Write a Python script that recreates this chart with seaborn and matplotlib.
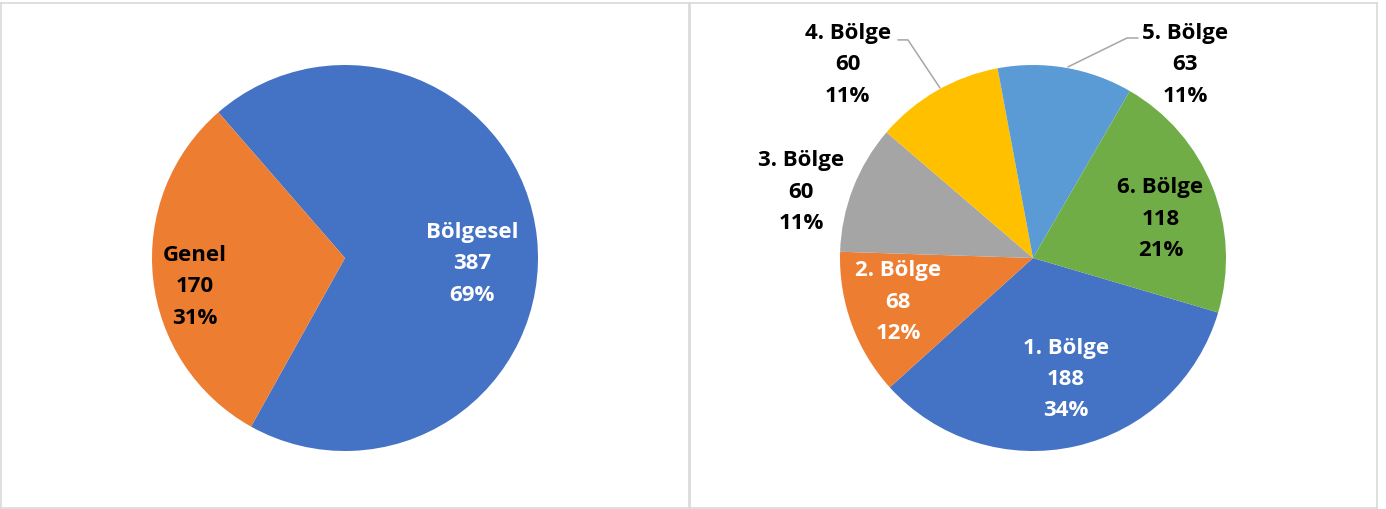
import matplotlib
matplotlib.use("Agg")
import matplotlib.pyplot as plt
import seaborn as sns

# data
type_labels = ["Bölgesel", "Genel"]
type_values = [387, 170]
region_labels = ["1. Bölge", "2. Bölge", "3. Bölge", "4. Bölge", "5. Bölge", "6. Bölge"]
region_values = [188, 68, 60, 60, 63, 118]

# styling / layout
type_colors = ["#4472C4", "#ED7D31"]
region_colors = ["#4472C4", "#ED7D31", "#A5A5A5", "#FFC000", "#5B9BD5", "#70AD47"]
type_text_colors = ["white", "black"]
region_text_colors = ["white", "white", "black", "black", "black", "black"]
# label centres in pie units (radius = 1)
type_label_pos = [(0.66, -0.03), (-0.78, -0.15)]
region_label_pos = [(0.17, -0.63), (-0.70, -0.23), (-1.20, 0.34),
                    (-0.96, 1.00), (0.79, 1.00), (0.66, 0.20)]
# leader lines for labels sitting outside the pie
leaders = {3: [(-0.70, 1.13), (-0.648, 1.13), (-0.482, 0.881)],
           4: [(0.544, 1.14), (0.487, 1.14), (0.181, 0.99)]}

sns.set_theme(style="white")
plt.rcParams["font.family"] = ["Open Sans", "DejaVu Sans"]

W, H = 1386, 509
R = 193  # pie radius in pixels
fig = plt.figure(figsize=(W / 100, H / 100), dpi=100)
fig.patch.set_facecolor("white")


def draw_pie(left_px, width_px, cx_px, values, labels, colors, text_colors,
             positions, start):
    ax = fig.add_axes([left_px / W, 1 / H, width_px / W, 505 / H])
    cx_off = cx_px - left_px
    total = sum(values)
    ax.pie(values, colors=colors, startangle=start, counterclock=False,
           wedgeprops=dict(linewidth=0))
    for lab, v, tc, (x, y) in zip(labels, values, text_colors, positions):
        pct = round(100 * v / total)
        ax.text(x, y, f"{lab}\n{v}\n{pct}%", ha="center", va="center",
                multialignment="center", fontsize=16, fontweight="bold",
                color=tc, linespacing=1.65)
    ax.set_aspect("auto")
    ax.set_xlim(-cx_off / R, (width_px - cx_off) / R)
    ax.set_ylim(-250 / R, (505 - 250) / R)
    ax.set_frame_on(True)
    for s in ax.spines.values():
        s.set_visible(True)
        s.set_color("#D9D9D9")
        s.set_linewidth(1.2)
    ax.set_xticks([])
    ax.set_yticks([])
    return ax


ax1 = draw_pie(1, 688, 345, type_values, type_labels, type_colors,
               type_text_colors, type_label_pos, 131)
ax2 = draw_pie(690, 687, 1033, region_values, region_labels, region_colors,
               region_text_colors, region_label_pos, -16.4)
for pts in leaders.values():
    xs, ys = zip(*pts)
    ax2.plot(xs, ys, color="#A6A6A6", linewidth=1.1)

fig.savefig("out.png", dpi=100, facecolor="white")
